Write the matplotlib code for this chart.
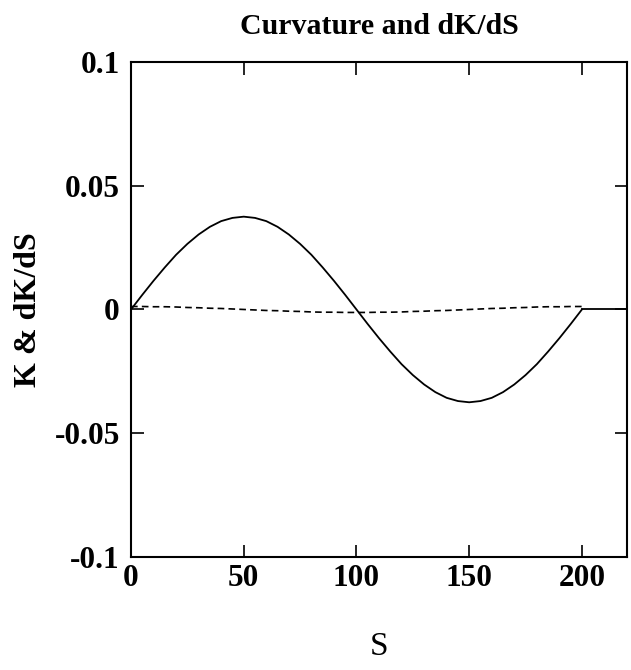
import matplotlib
matplotlib.use("Agg")
import matplotlib.pyplot as plt

# arc length samples
S = [0, 5, 10, 15, 20, 25, 30, 35, 40, 45, 50, 55, 60, 65, 70, 75, 80, 85, 90, 95, 100,
     105, 110, 115, 120, 125, 130, 135, 140, 145, 150, 155, 160, 165, 170, 175, 180, 185, 190, 195, 200]
# curvature K
K = [0, .0059, .0116, .0170, .0221, .0265, .0303, .0334, .0357, .0370, .0375,
     .0370, .0357, .0334, .0303, .0265, .0221, .0170, .0116, .0059, 0,
     -.0059, -.0116, -.0170, -.0221, -.0265, -.0303, -.0334, -.0357, -.0370, -.0375,
     -.0370, -.0357, -.0334, -.0303, -.0265, -.0221, -.0170, -.0116, -.0059, 0]
# tail of K after the curve ends
S_tail = [200, 220]
K_tail = [0, 0]
# dK/dS
dKdS = [.0012, .0012, .0011, .0011, .0010, .0008, .0007, .0005, .0004, .0002, 0,
        -.0002, -.0004, -.0005, -.0007, -.0008, -.0010, -.0011, -.0011, -.0012, -.0012,
        -.0012, -.0011, -.0011, -.0010, -.0008, -.0007, -.0005, -.0004, -.0002, 0,
        .0002, .0004, .0005, .0007, .0008, .0010, .0011, .0011, .0012, .0012]

xticks = [0, 50, 100, 150, 200]
yticks = [-0.1, -0.05, 0, 0.05, 0.1]
ylabels = ["-0.1", "-0.05", "0", "0.05", "0.1"]

plt.rcParams['font.family'] = ['Liberation Serif', 'DejaVu Serif']

fig = plt.figure(figsize=(6.31, 6.70), dpi=100)
ax = fig.add_axes([0.2076, 0.1687, 0.7861, 0.7388])

ax.plot(S, K, color='black', lw=1.3)
ax.plot(S_tail, K_tail, color='black', lw=1.3)
ax.plot(S, dKdS, color='black', lw=1.2, ls=(0, (4, 2.5)))

ax.set_xlim(0, 220)
ax.set_ylim(-0.1, 0.1)
ax.set_xticks(xticks)
ax.set_xticklabels([str(t) for t in xticks], fontsize=22.5, fontweight='bold')
ax.set_yticks(yticks)
ax.set_yticklabels(ylabels, fontsize=22.5, fontweight='bold')
ax.tick_params(direction='in', top=True, right=True, length=9, width=1.2)
ax.tick_params(axis='x', pad=5)
ax.tick_params(axis='y', pad=8)
for sp in ax.spines.values():
    sp.set_linewidth(1.5)

ax.set_title("Curvature and dK/dS", fontsize=21.5, fontweight='bold', pad=20)
ax.set_xlabel("S", fontsize=24, labelpad=28)
ax.set_ylabel("K & dK/dS", fontsize=23, fontweight='bold', labelpad=8)

fig.savefig("out.png", dpi=100)
